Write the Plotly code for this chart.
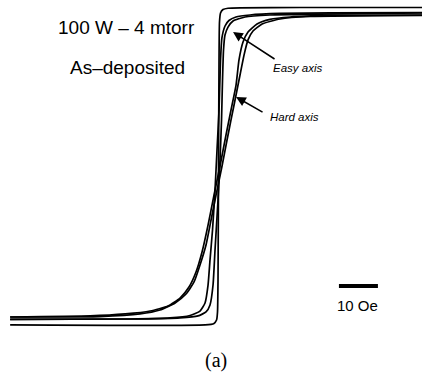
import plotly.graph_objects as go

# Applied field H (Oe) and normalised magnetisation M/Ms
sq_H = [-53.3, -3.3, -1.03, -0.38, -0.13, 0.0, 0.13, 0.26, 0.38, 0.64, 1.28, 2.56, 5.64, 21.0, 52.3]
sq_M = [-1.039, -1.039, -1.029, -1.007, -0.954, -0.745, 0.0, 0.693, 0.941, 1.0, 1.023, 1.031, 1.034, 1.036, 1.036]

easy_desc_H = [52.3, 28.7, 15.9, 8.2, 4.6, 2.8, 1.8, 1.0, 0.64, 0.26, -0.26, -0.77, -1.41, -2.05, -2.56,
               -3.33, -4.62, -7.18, -12.3, -22.6, -53.3]
easy_desc_M = [1.003, 1.001, 0.997, 0.987, 0.974, 0.951, 0.915, 0.837, 0.693, 0.366, 0.105, -0.157, -0.418,
               -0.614, -0.778, -0.895, -0.948, -0.977, -0.993, -1.0, -1.003]

easy_asc_H = [-53.3, -20.0, -9.74, -5.13, -3.08, -2.05, -1.28, -0.77, 0.0, 0.51, 0.90, 1.15, 1.41, 1.79,
              2.56, 3.85, 6.92, 13.3, 26.2, 52.3]
easy_asc_M = [-1.003, -1.0, -0.993, -0.980, -0.954, -0.908, -0.778, -0.549, -0.222, 0.039, 0.301, 0.562,
              0.758, 0.856, 0.908, 0.948, 0.974, 0.987, 0.993, 1.0]

hard_desc_H = [52.3, 28.7, 18.5, 13.3, 10.0, 7.69, 6.41, 5.38, 4.62, 3.33, 2.05, 0.51, -1.03, -2.56, -4.10,
               -5.64, -7.44, -9.74, -12.8, -17.4, -23.8, -32.8, -53.3]
hard_desc_M = [0.987, 0.984, 0.974, 0.958, 0.928, 0.876, 0.810, 0.693, 0.529, 0.366, 0.203, 0.0, -0.190,
               -0.386, -0.562, -0.693, -0.791, -0.863, -0.915, -0.948, -0.967, -0.980, -0.987]

hard_asc_H = [-53.3, -30.3, -20.0, -14.9, -11.0, -8.21, -6.15, -4.62, -3.08, -1.79, -0.51, 1.03, 2.31, 3.33,
              4.62, 5.64, 6.67, 7.69, 8.97, 11.3, 15.9, 23.6, 52.3]
hard_asc_M = [-0.987, -0.984, -0.967, -0.941, -0.895, -0.837, -0.758, -0.647, -0.516, -0.353, -0.190, 0.0,
              0.170, 0.301, 0.464, 0.595, 0.725, 0.824, 0.882, 0.928, 0.961, 0.977, 0.984]

scale_H = [31.0, 41.0]
scale_M = [-0.784, -0.784]

fig = go.Figure()
line = dict(color="black", width=1.7, shape="spline", smoothing=0.5)
for xs, ys in [(sq_H, sq_M), (easy_desc_H, easy_desc_M), (easy_asc_H, easy_asc_M),
               (hard_desc_H, hard_desc_M), (hard_asc_H, hard_asc_M)]:
    fig.add_trace(go.Scatter(x=xs, y=ys, mode="lines", line=line, hoverinfo="skip"))
fig.add_trace(go.Scatter(x=scale_H, y=scale_M, mode="lines", line=dict(color="black", width=4)))

sans = "Liberation Sans, Arial, sans-serif"
ann = [
    dict(text="100 W – 4 mtorr", x=0.2986, y=0.9276, size=19, fam=sans),
    dict(text="As–deposited", x=0.3033, y=0.8177, size=19, fam=sans),
    dict(text="<i>Easy axis</i>", x=0.706, y=0.8177, size=11.5, fam=sans),
    dict(text="<i>Hard axis</i>", x=0.6967, y=0.6863, size=11.5, fam=sans),
    dict(text="10 Oe", x=0.848, y=0.1823, size=15, fam=sans),
    dict(text="(a)", x=0.5118, y=0.0322, size=20, fam="Liberation Serif, Times New Roman, serif"),
]
for a in ann:
    fig.add_annotation(text=a["text"], x=a["x"], y=a["y"], xref="paper", yref="paper",
                       xanchor="center", yanchor="middle", showarrow=False,
                       font=dict(size=a["size"], family=a["fam"], color="black"))

# arrows pointing at the loops
fig.add_annotation(x=3.85, y=0.876, xref="x", yref="y", text="", showarrow=True,
                   ax=43, ay=28, arrowhead=2, arrowsize=1.3, arrowwidth=1.5, arrowcolor="black")
fig.add_annotation(x=4.62, y=0.451, xref="x", yref="y", text="", showarrow=True,
                   ax=28, ay=16, arrowhead=2, arrowsize=1.3, arrowwidth=1.5, arrowcolor="black")

fig.update_layout(
    width=422, height=373, margin=dict(l=0, r=0, t=0, b=0),
    paper_bgcolor="white", plot_bgcolor="white", showlegend=False,
    xaxis=dict(range=[-55.9, 52.3], visible=False, fixedrange=True),
    yaxis=dict(range=[-1.353, 1.085], visible=False, fixedrange=True),
)
fig.write_html("out.html")
